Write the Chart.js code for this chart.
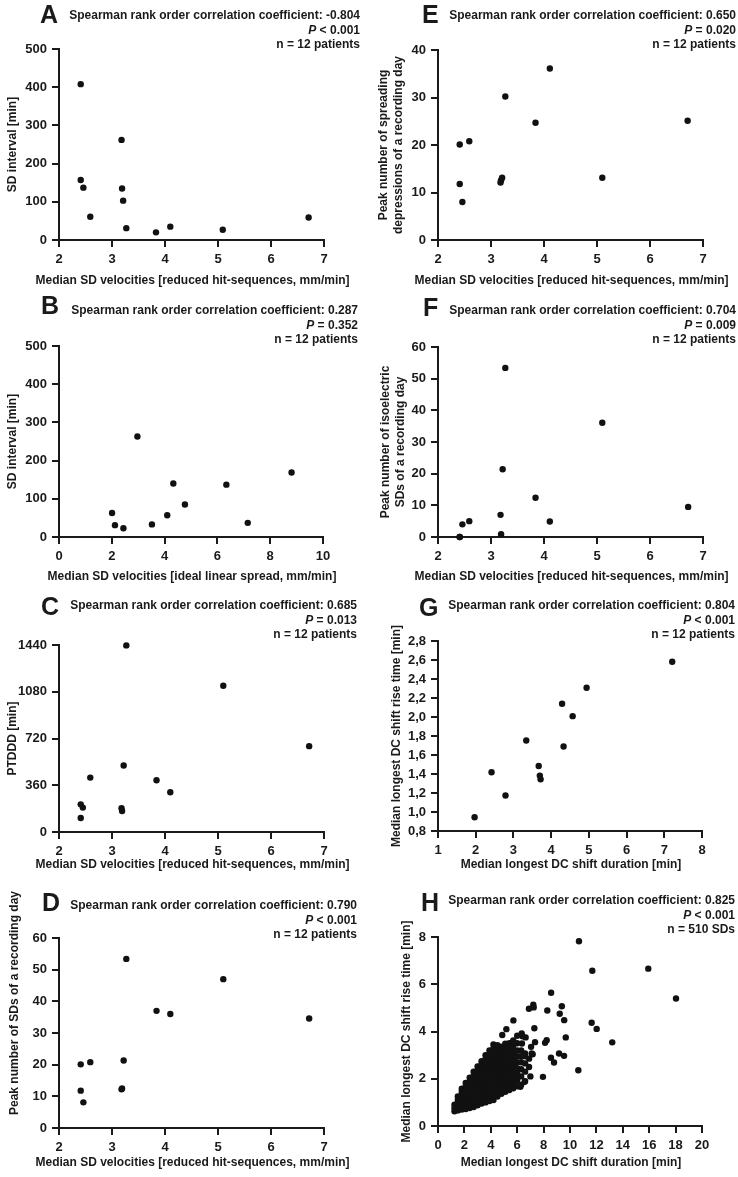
<!DOCTYPE html>
<html>
<head>
<meta charset="utf-8">
<script src="https://cdn.jsdelivr.net/npm/chart.js@4.4.1/dist/chart.umd.min.js"></script>
<style>
  body { margin: 0; background: #fff; }
  #fig { position: relative; width: 738px; height: 1177px; overflow: hidden;
         font-family: 'Liberation Sans', Arial, sans-serif; color: #1a1a1a; }
  #fig canvas { position: absolute; }
  .letter { position: absolute; font-size: 25px; font-weight: bold; line-height: 25px; }
  .note { position: absolute; font-size: 12px; font-weight: bold; line-height: 14.5px;
          text-align: right; white-space: nowrap; }
</style>
</head>
<body>
<div id="fig"></div>
<script>
// ---- data ----
// A: SD interval vs median SD velocity (reduced hit-sequences)
const aVelocity = [2.41, 2.41, 2.46, 2.59, 3.18, 3.19, 3.21, 3.27, 3.83, 4.10, 5.09, 6.71];
const aInterval = [408, 157, 137, 61, 262, 135, 103, 31, 20, 35, 27, 59];
// B: SD interval vs median SD velocity (ideal linear spread)
const bVelocity = [2.01, 2.12, 2.44, 2.97, 3.52, 4.10, 4.33, 4.77, 6.34, 7.15, 8.81];
const bInterval = [63, 31, 23, 263, 33, 57, 140, 85, 137, 37, 169];
// C: PTDDD
const cVelocity = [2.41, 2.45, 2.41, 2.59, 3.18, 3.19, 3.22, 3.27, 3.84, 4.10, 5.10, 6.72];
const cPtddd = [213, 188, 108, 419, 183, 162, 512, 1437, 399, 306, 1126, 661];
// D: peak number of SDs of a recording day
const dVelocity = [2.41, 2.41, 2.46, 2.59, 3.18, 3.19, 3.22, 3.27, 3.84, 4.10, 5.10, 6.72];
const dPeakSD = [20.1, 11.8, 8.1, 20.8, 12.2, 12.5, 21.3, 53.4, 37.0, 36.0, 47.0, 34.6];
// E: peak number of spreading depressions
const eVelocity = [2.41, 2.41, 2.46, 2.59, 3.18, 3.19, 3.21, 3.27, 3.84, 4.11, 5.10, 6.71];
const ePeakSpreading = [20.1, 11.8, 8.0, 20.8, 12.1, 12.6, 13.1, 30.2, 24.7, 36.1, 13.1, 25.1];
// F: peak number of isoelectric SDs
const fVelocity = [2.41, 2.41, 2.46, 2.59, 3.18, 3.19, 3.22, 3.27, 3.84, 4.11, 5.10, 6.72];
const fPeakIso = [0, 0, 4.0, 5.0, 7.0, 0.9, 21.4, 53.4, 12.4, 4.9, 36.1, 9.5];
// G: rise time vs duration (patients)
const gDuration = [1.97, 2.42, 2.79, 3.34, 3.67, 3.70, 3.72, 4.29, 4.33, 4.57, 4.94, 7.21];
const gRise = [0.944, 1.419, 1.173, 1.753, 1.485, 1.383, 1.345, 2.139, 1.689, 2.009, 2.308, 2.582];
// H: rise time vs duration (single SDs), [duration, rise time]
const hPairs = [
  [1.25,0.62],[1.25,0.75],[1.25,0.9],
  [1.5,0.66],[1.5,0.8],[1.5,0.95],[1.5,1.1],[1.5,1.25],
  [1.8,0.7],[1.8,0.85],[1.8,1.0],[1.8,1.15],[1.8,1.3],[1.8,1.45],[1.8,1.58],
  [2.1,0.72],[2.1,0.88],[2.1,1.03],[2.1,1.2],[2.1,1.35],[2.1,1.5],[2.1,1.66],[2.1,1.82],
  [2.4,0.76],[2.4,0.92],[2.4,1.08],[2.4,1.24],[2.4,1.4],[2.4,1.56],[2.4,1.72],[2.4,1.88],[2.4,2.04],
  [2.7,0.8],[2.7,0.97],[2.7,1.13],[2.7,1.3],[2.7,1.46],[2.7,1.62],[2.7,1.78],[2.7,1.95],[2.7,2.12],[2.7,2.3],
  [3.0,0.88],[3.0,1.05],[3.0,1.21],[3.0,1.38],[3.0,1.54],[3.0,1.7],[3.0,1.87],[3.0,2.03],[3.0,2.2],[3.0,2.36],[3.0,2.52],
  [3.3,0.95],[3.3,1.12],[3.3,1.28],[3.3,1.45],[3.3,1.61],[3.3,1.78],[3.3,1.94],[3.3,2.1],[3.3,2.27],[3.3,2.43],[3.3,2.6],[3.3,2.74],
  [3.6,1.0],[3.6,1.17],[3.6,1.33],[3.6,1.5],[3.6,1.66],[3.6,1.83],[3.6,2.0],[3.6,2.16],[3.6,2.33],[3.6,2.5],[3.6,2.66],[3.6,2.83],[3.6,3.0],
  [3.9,1.06],[3.9,1.22],[3.9,1.39],[3.9,1.55],[3.9,1.72],[3.9,1.88],[3.9,2.05],[3.9,2.21],[3.9,2.38],[3.9,2.54],[3.9,2.71],[3.9,2.88],[3.9,3.05],[3.9,3.2],
  [4.2,1.1],[4.2,1.27],[4.2,1.44],[4.2,1.6],[4.2,1.77],[4.2,1.93],[4.2,2.1],[4.2,2.27],[4.2,2.44],[4.2,2.6],[4.2,2.77],[4.2,2.94],[4.2,3.1],[4.2,3.28],[4.2,3.45],
  [4.5,1.25],[4.5,1.42],[4.5,1.58],[4.5,1.75],[4.5,1.92],[4.5,2.08],[4.5,2.25],[4.5,2.42],[4.5,2.58],[4.5,2.75],[4.5,2.92],[4.5,3.08],[4.5,3.25],[4.5,3.42],
  [4.8,1.36],[4.8,1.52],[4.8,1.69],[4.8,1.86],[4.8,2.02],[4.8,2.19],[4.8,2.36],[4.8,2.52],[4.8,2.69],[4.8,2.86],[4.8,3.02],[4.8,3.19],[4.8,3.36],
  [5.1,1.45],[5.1,1.62],[5.1,1.78],[5.1,1.95],[5.1,2.12],[5.1,2.28],[5.1,2.45],[5.1,2.62],[5.1,2.78],[5.1,2.95],[5.1,3.12],[5.1,3.3],[5.1,3.48],
  [5.4,1.52],[5.4,1.7],[5.4,1.88],[5.4,2.05],[5.4,2.22],[5.4,2.4],[5.4,2.58],[5.4,2.75],[5.4,2.92],[5.4,3.1],[5.4,3.28],[5.4,3.5],
  [5.7,1.6],[5.7,1.8],[5.7,2.0],[5.7,2.2],[5.7,2.4],[5.7,2.6],[5.7,2.8],[5.7,3.0],[5.7,3.2],[5.7,3.4],[5.7,3.62],
  [6.0,1.68],[6.0,1.95],[6.0,2.2],[6.0,2.45],[6.0,2.7],[6.0,2.95],[6.0,3.2],[6.0,3.5],[6.0,3.82],
  [6.3,1.75],[6.3,2.1],[6.3,2.4],[6.3,2.7],[6.3,2.95],[6.3,3.2],
  [6.6,1.9],[6.6,2.3],[6.6,2.65],[6.6,2.95],
  [6.9,2.5],[6.9,2.85],
  [10.68,7.82],[11.69,6.57],[15.93,6.66],[18.03,5.40],[8.57,5.64],[7.22,5.13],[7.25,5.02],[6.89,4.96],
  [9.38,5.07],[9.22,4.75],[9.56,4.48],[8.28,4.89],[11.64,4.37],[12.02,4.11],[5.71,4.47],[5.18,4.10],
  [4.87,3.85],[7.30,4.14],[9.68,3.75],[8.23,3.63],[8.11,3.52],[7.35,3.55],[6.34,3.92],[6.64,3.75],
  [6.40,3.80],[8.56,2.89],[9.17,3.07],[9.55,2.97],[8.79,2.69],[7.17,3.04],[10.63,2.36],[13.20,3.54],
  [7.95,2.08],[6.57,1.87],[6.24,1.66],[7.05,3.35],[6.36,3.49],[7.0,2.1],[7.1,3.07],[6.6,3.07]
];

const statLines = {
  A: ['-0.804', '< 0.001', 'n = 12 patients'],
  B: ['0.287', '= 0.352', 'n = 12 patients'],
  C: ['0.685', '= 0.013', 'n = 12 patients'],
  D: ['0.790', '< 0.001', 'n = 12 patients'],
  E: ['0.650', '= 0.020', 'n = 12 patients'],
  F: ['0.704', '= 0.009', 'n = 12 patients'],
  G: ['0.804', '< 0.001', 'n = 12 patients'],
  H: ['0.825', '< 0.001', 'n = 510 SDs']
};

const velReducedTitle = 'Median SD velocities [reduced hit-sequences, mm/min]';
const durationTitle = 'Median longest DC shift duration [min]';

// ---- layout of the eight panels ----
const panels = [
  { id: 'A', xs: aVelocity, ys: aInterval, left: 0, top: 0, plot: { l: 59, r: 324, t: 49, b: 240 }, xTitleY: 281,
    x: [2, 7, 1], y: [0, 500, 100], xTitle: velReducedTitle, yTitle: ['SD interval [min]'], yTitleX: 13,
    letter: [40, 5], noteRight: 360, noteTop: 15 },
  { id: 'B', xs: bVelocity, ys: bInterval, left: 0, top: 290, plot: { l: 59, r: 323, t: 346, b: 537 }, xTitleY: 577,
    x: [0, 10, 2], y: [0, 500, 100], xTitle: 'Median SD velocities [ideal linear spread, mm/min]', yTitle: ['SD interval [min]'], yTitleX: 13,
    letter: [41, 296], noteRight: 358, noteTop: 310 },
  { id: 'C', xs: cVelocity, ys: cPtddd, left: 0, top: 580, plot: { l: 59, r: 324, t: 645, b: 832 }, xTitleY: 865,
    x: [2, 7, 1], y: [0, 1440, 360], xTitle: velReducedTitle, yTitle: ['PTDDD [min]'], yTitleX: 13,
    letter: [41, 597], noteRight: 357, noteTop: 605 },
  { id: 'D', xs: dVelocity, ys: dPeakSD, left: 0, top: 880, plot: { l: 59, r: 324, t: 938, b: 1128 }, xTitleY: 1163,
    x: [2, 7, 1], y: [0, 60, 10], xTitle: velReducedTitle, yTitle: ['Peak number of SDs of a recording day'], yTitleX: 15, yTitleY: 1003,
    letter: [42, 893], noteRight: 357, noteTop: 905 },
  { id: 'E', xs: eVelocity, ys: ePeakSpreading, left: 369, top: 0, plot: { l: 438, r: 703, t: 50, b: 240 }, xTitleY: 281,
    x: [2, 7, 1], y: [0, 40, 10], xTitle: velReducedTitle, yTitle: ['Peak number of spreading', 'depressions of a recording day'], yTitleX: 384,
    letter: [422, 5], noteRight: 736, noteTop: 15 },
  { id: 'F', xs: fVelocity, ys: fPeakIso, left: 369, top: 290, plot: { l: 438, r: 703, t: 347, b: 537 }, xTitleY: 577,
    x: [2, 7, 1], y: [0, 60, 10], xTitle: velReducedTitle, yTitle: ['Peak number of isoelectric', 'SDs of a recording day'], yTitleX: 386,
    letter: [423, 298], noteRight: 736, noteTop: 310 },
  { id: 'G', xs: gDuration, ys: gRise, left: 369, top: 580, plot: { l: 438, r: 702, t: 641, b: 831 }, xTitleY: 865,
    x: [1, 8, 1], y: [0.8, 2.8, 0.2], xTitle: durationTitle, yTitle: ['Median longest DC shift rise time [min]'], yTitleX: 397,
    letter: [419, 598], noteRight: 735, noteTop: 605, comma: true },
  { id: 'H', xs: hPairs.map(p => p[0]), ys: hPairs.map(p => p[1]), left: 369, top: 880, plot: { l: 438, r: 702, t: 937, b: 1126 }, xTitleY: 1163,
    x: [0, 20, 2], y: [0, 8, 2], xTitle: durationTitle, yTitle: ['Median longest DC shift rise time [min]'], yTitleX: 407,
    letter: [421, 893], noteRight: 735, noteTop: 900 }
];

Chart.defaults.font.family = "'Liberation Sans', Arial, sans-serif";
Chart.defaults.font.weight = 'bold';
Chart.defaults.color = '#1a1a1a';

const fig = document.getElementById('fig');
const INK = '#1a1a1a';

// axis titles are drawn here so long titles are not squeezed to the axis width
const axisTitles = {
  id: 'axisTitles',
  afterDraw(chart, args, o) {
    const ctx = chart.ctx;
    ctx.save();
    ctx.fillStyle = INK;
    ctx.font = "bold 12px 'Liberation Sans', Arial, sans-serif";
    ctx.textAlign = 'center';
    ctx.textBaseline = 'middle';
    ctx.fillText(o.xText, o.xCx, o.xCy);
    ctx.translate(o.yCx, o.yCy);
    ctx.rotate(-Math.PI / 2);
    o.yText.forEach((t, i) => ctx.fillText(t, 0, i * 15));
    ctx.restore();
  }
};

function axis(range, fmt) {
  return {
    type: 'linear', min: range[0], max: range[1],
    ticks: { stepSize: range[2], font: { size: 13 }, color: INK, padding: 5, callback: fmt },
    grid: { drawOnChartArea: false, drawTicks: true, tickLength: 7, tickWidth: 2, tickColor: INK, color: INK, lineWidth: 2 },
    border: { display: true, color: INK, width: 2 },
    title: { display: false }
  };
}

function addText(p) {
  const L = document.createElement('div');
  L.className = 'letter';
  L.textContent = p.id;
  L.style.left = p.letter[0] + 'px';
  L.style.top = (p.letter[1] - 3) + 'px';
  fig.appendChild(L);

  const s = statLines[p.id];
  const note = document.createElement('div');
  note.className = 'note';
  note.style.right = (738 - p.noteRight) + 'px';
  note.style.top = (p.noteTop - 7) + 'px';
  const l1 = document.createElement('div');
  l1.textContent = 'Spearman rank order correlation coefficient: ' + s[0];
  const l2 = document.createElement('div');
  const it = document.createElement('i');
  it.textContent = 'P';
  l2.appendChild(it);
  l2.appendChild(document.createTextNode(' ' + s[1]));
  const l3 = document.createElement('div');
  l3.textContent = s[2];
  note.append(l1, l2, l3);
  fig.appendChild(note);
}

function addChart(p) {
  const w = 369;
  const h = p.xTitleY + 10 - p.top;
  const cv = document.createElement('canvas');
  cv.width = w; cv.height = h;
  cv.style.left = p.left + 'px';
  cv.style.top = p.top + 'px';
  fig.appendChild(cv);

  const yAxisW = p.plot.l - p.left;
  const xAxisH = p.top + h - p.plot.b;
  const fmt = p.comma ? v => v.toFixed(1).replace('.', ',') : v => String(v);

  const xs = axis(p.x, v => String(v));
  xs.afterFit = sc => { sc.height = xAxisH; };
  const ys = axis(p.y, fmt);
  ys.afterFit = sc => { sc.width = yAxisW; };

  new Chart(cv, {
    type: 'scatter',
    data: {
      datasets: [{
        data: p.xs.map((x, i) => ({ x: x, y: p.ys[i] })),
        pointRadius: 3.2, pointHoverRadius: 3.2,
        backgroundColor: '#111', borderWidth: 0, clip: false
      }]
    },
    options: {
      responsive: false, animation: false, devicePixelRatio: 1,
      layout: { padding: { left: 0, top: p.plot.t - p.top, right: p.left + w - p.plot.r, bottom: 0 } },
      plugins: {
        legend: { display: false }, tooltip: { enabled: false },
        axisTitles: {
          xText: p.xTitle, xCx: (p.plot.l + p.plot.r) / 2 + 1 - p.left, xCy: p.xTitleY - p.top,
          yText: p.yTitle, yCx: p.yTitleX - p.left,
          yCy: (p.yTitleY || (p.plot.t + p.plot.b) / 2) - p.top
        }
      },
      scales: { x: xs, y: ys }
    },
    plugins: [axisTitles]
  });
}

panels.forEach(p => { addChart(p); addText(p); });
</script>
</body>
</html>
